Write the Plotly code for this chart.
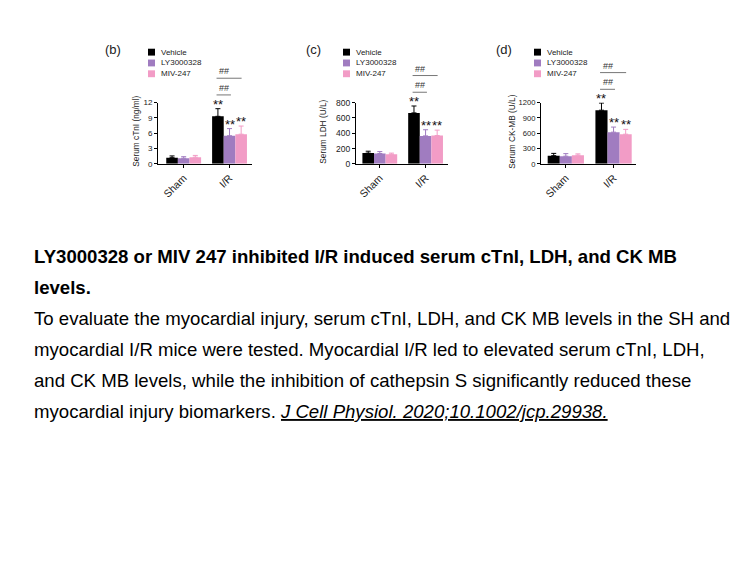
import plotly.graph_objects as go

W, H = 756, 567

# ---------------- data ----------------
groups = ["Sham", "I/R"]
series = ["Vehicle", "LY3000328", "MIV-247"]

ctni_means = [[1.2, 9.3], [1.1, 5.5], [1.3, 5.8]]
ctni_errs = [[0.35, 1.5], [0.3, 1.4], [0.35, 1.6]]

ldh_means = [[140, 665], [135, 365], [125, 370]]
ldh_errs = [[25, 90], [25, 80], [15, 70]]

ckmb_means = [[160, 1050], [150, 620], [170, 580]]
ckmb_errs = [[45, 140], [50, 100], [25, 95]]

star_labels = [["", "**"], ["", "**"], ["", "**"]]
hash_labels = ["##", "##"]

panel_letters = ["(b)", "(c)", "(d)"]
y_titles = ["Serum cTnI (ng/ml)", "Serum LDH (U/L)", "Serum CK-MB (U/L)"]
y_max = [12, 800, 1200]
y_dtick = [3, 200, 300]

caption_lines = [
    "<b>LY3000328 or MIV 247 inhibited I/R induced serum cTnI, LDH, and CK MB</b>",
    "<b>levels.</b>",
    "To evaluate the myocardial injury, serum cTnI, LDH, and CK MB levels in the SH and",
    "myocardial I/R mice were tested. Myocardial I/R led to elevated serum cTnI, LDH,",
    "and CK MB levels, while the inhibition of cathepsin S significantly reduced these",
    "myocardial injury biomarkers. <i><u>J Cell Physiol. 2020;10.1002/jcp.29938.</u></i>",
]

all_means = [ctni_means, ldh_means, ckmb_means]
all_errs = [ctni_errs, ldh_errs, ckmb_errs]

# ---------------- style / layout ----------------
colors = ["#000000", "#A07CC0", "#F29CC6"]
FONT = "Liberation Sans, Arial, sans-serif"

# x-domain in px, category range
x_dom_px = [(158, 252), (356, 448), (541, 636)]
x_rng = [(-0.56, 1.49), (-0.52, 1.49), (-0.52, 1.47)]
y_dom_px = (99.3, 161.7)  # top, bottom
legend_x_px = [148, 343, 534]
letter_x_px = [103, 304, 494]
ytitle_x_px = [136, 323, 512]
ytick_size = [8, 8.5, 7.6]

bargap = 0.24
bar_w = (1 - bargap) / 3
offsets = [-bar_w, 0.0, bar_w]


def px_x(p):
    return p / W


def px_y(p):
    return 1 - p / H


yd = [px_y(y_dom_px[1]), px_y(y_dom_px[0])]

fig = go.Figure()
annotations = []
shapes = []

for k in range(3):
    ax = "" if k == 0 else str(k + 1)
    for s in range(3):
        fig.add_trace(go.Bar(
            x=groups, y=all_means[k][s], name=series[s],
            marker=dict(color=colors[s], line=dict(width=0)),
            error_y=dict(type="data", array=all_errs[k][s],
                         arrayminus=[0] * len(groups), symmetric=False,
                         thickness=1, width=2.5, color=colors[s]),
            xaxis="x" + ax, yaxis="y" + ax, showlegend=False,
        ))
    d0, d1 = x_dom_px[k]
    r0, r1 = x_rng[k]
    fig.update_layout(**{
        "xaxis" + ax: dict(
            domain=[px_x(d0), px_x(d1)], anchor="y" + ax, type="category",
            categoryorder="array", categoryarray=groups, range=[r0, r1],
            showline=True, linecolor="#000", linewidth=1, ticks="outside",
            ticklen=3, tickwidth=1, tickcolor="#000", tickangle=-45,
            tickfont=dict(size=10.5, family=FONT, color="#222"),
            showgrid=False, zeroline=False, fixedrange=True),
        "yaxis" + ax: dict(
            domain=yd, anchor="x" + ax, range=[0, y_max[k]], tick0=0,
            dtick=y_dtick[k], showline=True, linecolor="#000", linewidth=1,
            ticks="outside", ticklen=3, tickwidth=1, tickcolor="#000",
            tickfont=dict(size=ytick_size[k], family=FONT, color="#222"),
            showgrid=False, zeroline=False, fixedrange=True),
    })

    # y-axis title
    annotations.append(dict(
        x=px_x(ytitle_x_px[k]), y=px_y(129), xref="paper", yref="paper",
        text=y_titles[k], textangle=-90, showarrow=False,
        xanchor="center", yanchor="middle",
        font=dict(size=8.3, family=FONT, color="#222")))

    # significance stars above I/R bars
    for s in range(3):
        for g in range(len(groups)):
            if star_labels[s][g]:
                annotations.append(dict(
                    x=g + offsets[s], y=all_means[k][s][g] + all_errs[k][s][g],
                    xref="x" + ax, yref="y" + ax, text=star_labels[s][g],
                    showarrow=False, yanchor="bottom", xanchor="center", yshift=-5,
                    font=dict(size=13, family=FONT, color="#111")))

    # ## brackets (vehicle vs LY, vehicle vs MIV) for I/R
    def xp(c):
        return px_x(d0 + (c - r0) / (r1 - r0) * (d1 - d0))

    top_val = all_means[k][0][1] + all_errs[k][0][1]
    top_px = y_dom_px[1] - top_val / y_max[k] * (y_dom_px[1] - y_dom_px[0])
    low_px = top_px - 14
    up_px = low_px - 17
    for j, (ypx, x_end) in enumerate([(low_px, 1 + offsets[1] + 0.03),
                                      (up_px, 1 + offsets[2] + 0.01)]):
        x_start = 1 + offsets[0] - 0.03
        shapes.append(dict(type="line", xref="paper", yref="paper",
                           x0=xp(x_start), x1=xp(x_end), y0=px_y(ypx), y1=px_y(ypx),
                           line=dict(color="#777", width=1)))
        annotations.append(dict(
            x=xp(1 + offsets[0] + 0.14), y=px_y(ypx - 7), xref="paper", yref="paper",
            text=hash_labels[j], showarrow=False, xanchor="center", yanchor="middle",
            font=dict(size=9, family=FONT, color="#333")))

    # legend (manual)
    for s in range(3):
        cy = 48 + 11 * s
        lx = legend_x_px[k]
        shapes.append(dict(type="rect", xref="paper", yref="paper",
                           x0=px_x(lx), x1=px_x(lx + 7), y0=px_y(cy + 3.5), y1=px_y(cy - 3.5),
                           fillcolor=colors[s], line=dict(width=0)))
        annotations.append(dict(
            x=px_x(lx + 11), y=px_y(cy), xref="paper", yref="paper", text=series[s],
            showarrow=False, xanchor="left", yanchor="middle",
            font=dict(size=8, family=FONT, color="#222")))

    # panel letter
    annotations.append(dict(
        x=px_x(letter_x_px[k]), y=px_y(45), xref="paper", yref="paper",
        text=panel_letters[k], showarrow=False, xanchor="left", yanchor="middle",
        font=dict(size=13, family=FONT, color="#222")))

# caption text
for i, line in enumerate(caption_lines):
    cy = 256 + 31.6 * i
    annotations.append(dict(
        x=px_x(32), y=px_y(cy), xref="paper", yref="paper", text=line,
        showarrow=False, xanchor="left", yanchor="middle",
        font=dict(size=18.6, family=FONT, color="#000")))

fig.update_layout(
    width=W, height=H, margin=dict(l=0, r=0, t=0, b=0),
    paper_bgcolor="white", plot_bgcolor="white",
    barmode="group", bargap=bargap, bargroupgap=0,
    annotations=annotations, shapes=shapes,
    font=dict(family=FONT),
)

fig.write_html("out.html")
